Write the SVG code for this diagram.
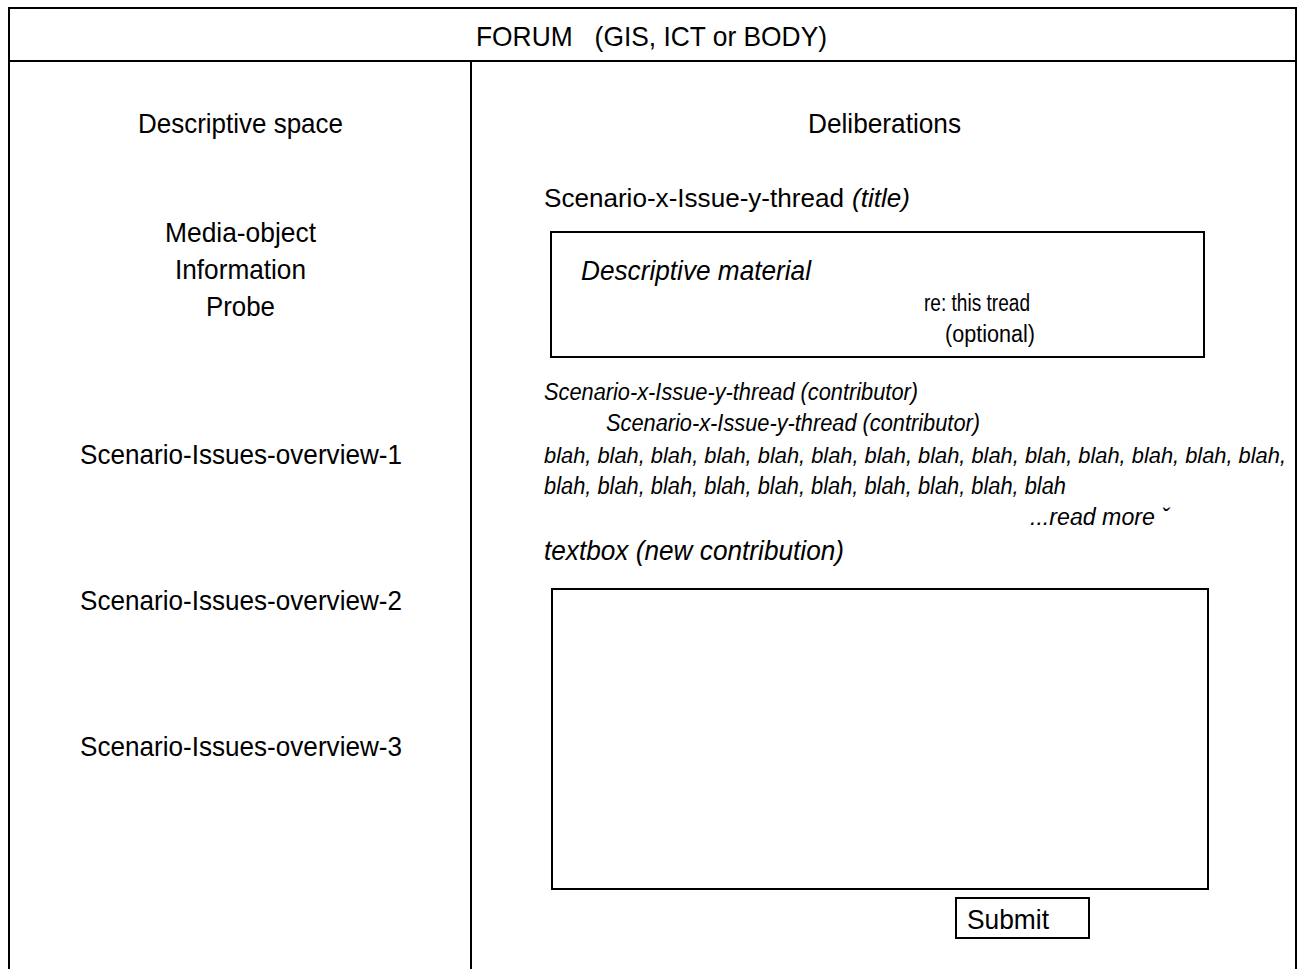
<svg xmlns="http://www.w3.org/2000/svg" width="1302" height="969" viewBox="0 0 1302 969">
<style>
.ln{stroke:#000;stroke-width:2;fill:none}
.bx{stroke:#000;stroke-width:2;fill:#fff}
.t{font-family:"Liberation Sans",Arial,sans-serif;fill:#000}
.L{font-size:28px}
.M{font-size:26px}
.S{font-size:23px}
.i{font-style:italic}
</style>
<rect width="1302" height="969" fill="#fff"/>
<g id="frame">
<polyline class="ln" points="9,969 9,8 1296,8 1296,969"/>
<line class="ln" x1="9" y1="61" x2="1296" y2="61"/>
<line class="ln" x1="471" y1="61" x2="471" y2="969"/>
</g>
<g id="header"><text class="t L" x="476" y="46" textLength="351" lengthAdjust="spacingAndGlyphs" xml:space="preserve">FORUM   (GIS, ICT or BODY)</text></g>
<g id="left-column">
<text class="t L" x="138" y="133" textLength="205" lengthAdjust="spacingAndGlyphs">Descriptive space</text>
<text class="t L" x="165" y="242" textLength="151" lengthAdjust="spacingAndGlyphs">Media-object</text>
<text class="t L" x="175" y="279" textLength="131" lengthAdjust="spacingAndGlyphs">Information</text>
<text class="t L" x="206" y="316" textLength="69" lengthAdjust="spacingAndGlyphs">Probe</text>
<text class="t L" x="80" y="464" textLength="322" lengthAdjust="spacingAndGlyphs">Scenario-Issues-overview-1</text>
<text class="t L" x="80" y="610" textLength="322" lengthAdjust="spacingAndGlyphs">Scenario-Issues-overview-2</text>
<text class="t L" x="80" y="756" textLength="322" lengthAdjust="spacingAndGlyphs">Scenario-Issues-overview-3</text>
</g>
<g id="deliberations">
<text class="t L" x="808" y="133" textLength="153" lengthAdjust="spacingAndGlyphs">Deliberations</text>
<text class="t M" x="544" y="207" textLength="300" lengthAdjust="spacingAndGlyphs">Scenario-x-Issue-y-thread</text>
<text class="t M i" x="852" y="207" textLength="58" lengthAdjust="spacingAndGlyphs">(title)</text>
</g>
<g id="descriptive-material">
<rect class="bx" x="551" y="232" width="653" height="125"/>
<text class="t L i" x="581" y="280" textLength="230" lengthAdjust="spacingAndGlyphs">Descriptive material</text>
<text class="t S" x="924" y="311" textLength="106" lengthAdjust="spacingAndGlyphs">re: this tread</text>
<text class="t S" x="945" y="342" textLength="90" lengthAdjust="spacingAndGlyphs">(optional)</text>
</g>
<g id="thread">
<text class="t S i" x="544" y="400" textLength="374" lengthAdjust="spacingAndGlyphs">Scenario-x-Issue-y-thread (contributor)</text>
<text class="t S i" x="606" y="431" textLength="374" lengthAdjust="spacingAndGlyphs">Scenario-x-Issue-y-thread (contributor)</text>
<text class="t i" style="font-size:21.5px" x="544" y="463" textLength="742" lengthAdjust="spacingAndGlyphs">blah, blah, blah, blah, blah, blah, blah, blah, blah, blah, blah, blah, blah, blah,</text>
<text class="t S i" x="544" y="494" textLength="522" lengthAdjust="spacingAndGlyphs">blah, blah, blah, blah, blah, blah, blah, blah, blah, blah</text>
<text class="t S i" x="1030" y="525" textLength="139" lengthAdjust="spacingAndGlyphs">...read more ˇ</text>
</g>
<g id="new-contribution">
<text class="t L i" x="544" y="560" textLength="300" lengthAdjust="spacingAndGlyphs">textbox (new contribution)</text>
<rect class="bx" x="552" y="589" width="656" height="300"/>
</g>
<g id="submit">
<rect class="bx" x="956" y="898" width="133" height="40"/>
<text class="t L" x="967" y="929" textLength="82" lengthAdjust="spacingAndGlyphs">Submit</text>
</g>
</svg>
